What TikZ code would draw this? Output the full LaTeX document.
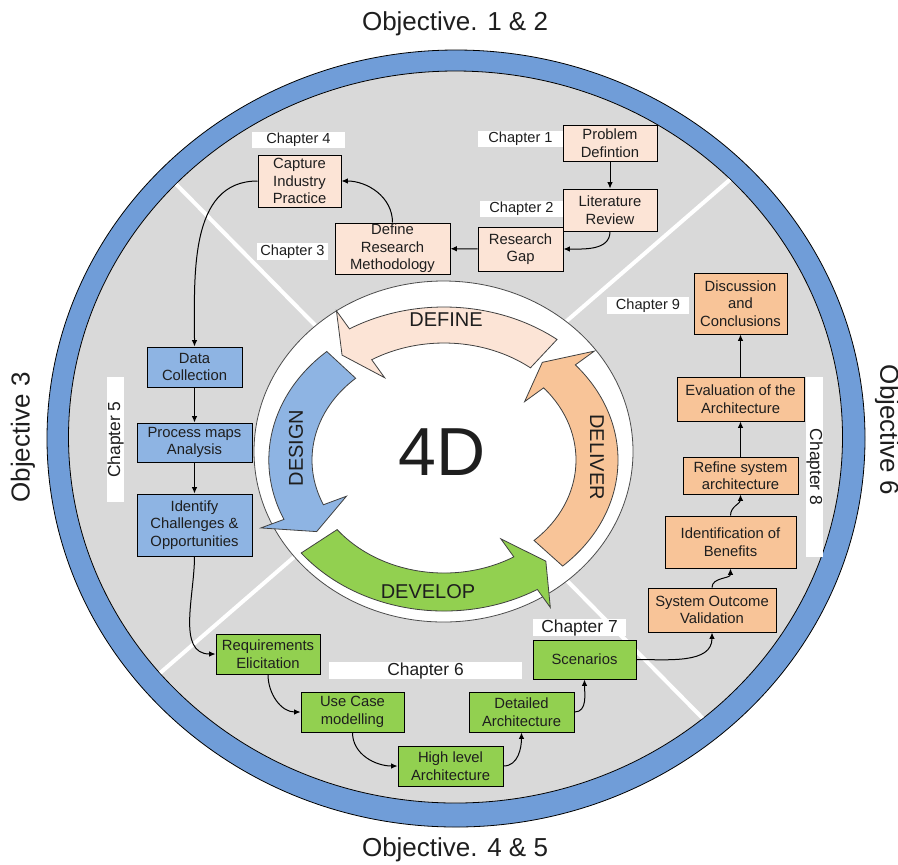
\documentclass[tikz,border=0pt]{standalone}
\usepackage{fontspec}
\setmainfont{Liberation Sans}
\usetikzlibrary{arrows.meta}
\definecolor{ringblue}{RGB}{112,157,216}
\definecolor{discgray}{RGB}{217,217,217}
\definecolor{definefill}{RGB}{252,228,214}
\definecolor{designfill}{RGB}{142,180,227}
\definecolor{developfill}{RGB}{146,208,80}
\definecolor{deliverfill}{RGB}{248,196,152}
\definecolor{inktext}{RGB}{30,30,30}
\tikzset{wh/.style 2 args={minimum width=#1*0.5pt, minimum height=#2*0.5pt}}
\newcommand{\phasearrow}[6]{%
  \filldraw[fill=#1, draw=black!75, line width=0.4pt]
    (#2:#6) arc[start angle=#2, end angle=#3, radius=#6]
    -- (#3:{#6+21}) -- (#4:{(#5+#6)/2}) -- (#3:{#5-21}) -- (#3:#5)
    arc[start angle=#3, end angle=#2, radius=#5] -- cycle;}
\begin{document}
\begin{tikzpicture}[x=0.5pt,y=0.5pt]
    \tikzstyle{every node}+=[inner sep=0pt, text=inktext]
    \tikzstyle{box}=[draw=black, line width=0.5pt, align=center, font=\fontsize{7.4}{8.8}\selectfont]
    \tikzstyle{definebox}=[box, fill=definefill]
    \tikzstyle{designbox}=[box, fill=designfill]
    \tikzstyle{developbox}=[box, fill=developfill]
    \tikzstyle{deliverbox}=[box, fill=deliverfill]
    \tikzstyle{chaplabel}=[fill=white, font=\fontsize{7.3}{8.8}\selectfont]
    \tikzstyle{bigchap}=[fill=white, font=\fontsize{8.7}{10}\selectfont]
    \tikzstyle{objective}=[font=\fontsize{13}{15}\selectfont]
    \tikzstyle{phase}=[font=\fontsize{10}{12}\selectfont]
    \tikzstyle{conn}=[-{Latex[length=3.2pt,width=2.8pt]}, line width=0.5pt]
    \useasboundingbox (0,0) rectangle (898,-864);
    \filldraw [fill=ringblue, draw=black, line width=0.4pt] (456,-438.5) ellipse [x radius=409, y radius=388.5];
    \filldraw [fill=discgray, draw=black, line width=0.4pt] (455.5,-437) ellipse [x radius=387, y radius=366];
    \begin{scope}
    \clip (455.5,-437) ellipse [x radius=386.5, y radius=365.5];
    \draw [white, line width=2pt] (100,-107) -- (800,-817);
    \draw [white, line width=2pt] (100,-725) -- (800,-119);
    \end{scope}
    \filldraw [fill=white, draw=black!70, line width=0.4pt] (443.5,-451.5) ellipse [x radius=189.5, y radius=170.5];
    \begin{scope}[shift={(444,-460)}, xscale=1.2]
    \phasearrow{definefill}{52}{121}{129}{117}{153}
    \phasearrow{designfill}{132}{204}{214}{110}{146}
    \phasearrow{developfill}{218}{301}{310}{113}{151}
    \phasearrow{deliverfill}{-47}{41}{50}{110}{145}
    \end{scope}
    \node [phase] (definetxt) at (446,-320) {DEFINE};
    \node [phase, rotate=90] (designtxt) at (296,-448) {DESIGN};
    \node [phase] (developtxt) at (428,-592) {DEVELOP};
    \node [phase, rotate=-90] (delivertxt) at (597,-457) {DELIVER};
    \node [font=\fontsize{34}{40}\selectfont] (fourd) at (442,-452) {4D};
    \node [objective] (obj12) at (455,-24) {Objective. 1 \& 2};
    \node [objective] (obj45) at (455,-850) {Objective. 4 \& 5};
    \node [objective, rotate=90] (obj3) at (23,-437.5) {Objective 3};
    \node [objective, rotate=-90] (obj6) at (887,-430) {Objective 6};
    \node [definebox, wh={94}{36}] (prob) at (610,-143) {Problem\\Defintion};
    \node [definebox, wh={94}{42}] (lit) at (610,-210) {Literature\\Review};
    \node [definebox, wh={85}{44}] (gap) at (520.5,-249) {Research\\Gap};
    \node [definebox, wh={115}{51}] (meth) at (392.5,-248.5) {Define\\Research\\Methodology};
    \node [definebox, wh={83}{52}] (cap) at (299.5,-181) {Capture\\Industry\\Practice};
    \node [designbox, wh={95}{40}] (data) at (194.5,-367) {Data\\Collection};
    \node [designbox, wh={115}{39}] (proc) at (194.5,-442.5) {Process maps\\Analysis};
    \node [designbox, wh={115}{62}] (iden) at (194.5,-525) {Identify\\Challenges \&\\Opportunities};
    \node [developbox, wh={104}{40}] (req) at (268,-654) {Requirements\\Elicitation};
    \node [developbox, wh={103}{40}] (use) at (352.5,-712) {Use Case\\modelling};
    \node [developbox, wh={105}{40}] (high) at (450.5,-766) {High level\\Architecture};
    \node [developbox, wh={105}{40}] (det) at (521.5,-712) {Detailed\\Architecture};
    \node [developbox, wh={103}{39}] (scen) at (584.5,-659.5) {Scenarios};
    \node [deliverbox, wh={128}{44}] (sys) at (712,-610) {System Outcome\\Validation};
    \node [deliverbox, wh={131}{52}] (ben) at (730.5,-542) {Identification of\\Benefits};
    \node [deliverbox, wh={115}{37}] (ref) at (740.5,-475.5) {Refine system\\architecture};
    \node [deliverbox, wh={127}{44}] (eval) at (740.5,-399) {Evaluation of the\\Architecture};
    \node [deliverbox, wh={93}{61}] (disc) at (740.5,-303.5) {Discussion\\and\\Conclusions};
    \node [chaplabel, wh={85}{16}] (ch1) at (520.5,-139) {Chapter 1};
    \node [chaplabel, wh={83}{16}] (ch2) at (521.5,-209) {Chapter 2};
    \node [chaplabel, wh={71}{17}] (ch3) at (292.5,-251.5) {Chapter 3};
    \node [chaplabel, wh={93}{16}] (ch4) at (298.5,-140) {Chapter 4};
    \node [bigchap, rotate=90, wh={125}{17}] (ch5) at (115.5,-439.5) {Chapter 5};
    \node [bigchap, wh={193}{17}] (ch6) at (425.5,-670.5) {Chapter 6};
    \node [bigchap, wh={93}{17}] (ch7) at (579.5,-627.5) {Chapter 7};
    \node [bigchap, rotate=-90, wh={180}{17}] (ch8) at (814.5,-467) {Chapter 8};
    \node [chaplabel, wh={82}{17}] (ch9) at (648,-305.5) {Chapter 9};
    \draw [conn] (prob) -- (lit);
    \draw [conn] (lit.south) to[out=-90,in=0] (gap.east);
    \draw [conn] (gap) -- (meth);
    \draw [conn] (meth.north) to[out=90,in=0] (cap.east);
    \draw [conn] (cap.west) to[out=180,in=90] (data.north);
    \draw [conn] (data) -- (proc);
    \draw [conn] (proc) -- (iden);
    \draw [conn] (iden.south) to[out=-90,in=180] (req.west);
    \draw [conn] (req.south) to[out=-90,in=180] (use.west);
    \draw [conn] (use.south) to[out=-90,in=180] (high.west);
    \draw [conn] (high.east) to[out=0,in=-90] (det.south);
    \draw [conn] (det.east) to[out=0,in=-90] (scen.south);
    \draw [conn] (scen.east) to[out=0,in=-90] (sys.south);
    \draw [conn] (sys.north) to[out=90,in=-90] (ben.south);
    \draw [conn] (ben.north) to[out=90,in=-90] (ref.south);
    \draw [conn] (ref) -- (eval);
    \draw [conn] (eval) -- (disc);
\end{tikzpicture}
\end{document}
